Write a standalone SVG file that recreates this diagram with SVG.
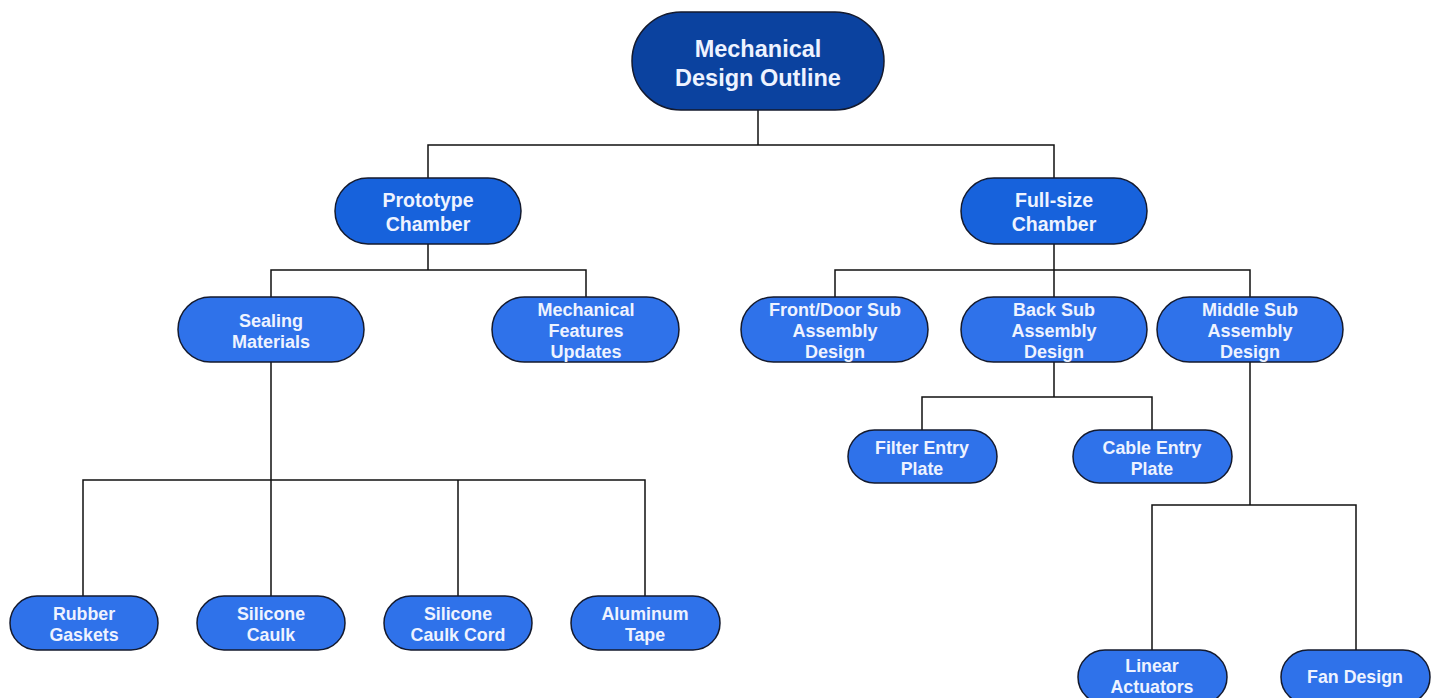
<svg xmlns="http://www.w3.org/2000/svg" width="1435" height="698" viewBox="0 0 1435 698">
<style>
.n{stroke:#141a2e;stroke-width:1.5}
.r{fill:#0b429f}
.m{fill:#1762dc}
.l{fill:#2f72ea}
text{font-family:"Liberation Sans",Arial,sans-serif;font-weight:bold;fill:#eef3ff;text-anchor:middle}
.t1{font-size:23.5px}
.t2{font-size:19.5px}
.t3{font-size:18px}
.t4{font-size:17.8px}
.c{fill:none;stroke:#111;stroke-width:1.5}
</style>
<rect width="1435" height="698" fill="#fff"/>
<g id="connectors" class="c">
<path d="M758 110V145M428 178V145H1054V178"/>
<path d="M428 244V270M271 297V270H586V297"/>
<path d="M1054 244V270M835 297V270H1250V297M1054 270V297"/>
<path d="M271 362V480M83 596V480H645V596M271 480V596M458 480V596"/>
<path d="M1054 362V397M922 430V397H1152V430"/>
<path d="M1250 362V505M1152 650V505H1356V650"/>
</g>
<g id="root"><rect class="n r" x="632" y="12" width="252" height="98" rx="49"/><text class="t1" x="758" y="56.5">Mechanical</text><text class="t1" x="758" y="85.5">Design Outline</text></g>
<g id="prototype"><rect class="n m" x="335" y="178" width="186" height="66" rx="33"/><text class="t2" x="428" y="207">Prototype</text><text class="t2" x="428" y="231">Chamber</text></g>
<g id="fullsize"><rect class="n m" x="961" y="178" width="186" height="66" rx="33"/><text class="t2" x="1054" y="207">Full-size</text><text class="t2" x="1054" y="231">Chamber</text></g>
<g id="sealing"><rect class="n l" x="178" y="297" width="186" height="65" rx="32.5"/><text class="t3" x="271" y="326.5">Sealing</text><text class="t3" x="271" y="347.5">Materials</text></g>
<g id="mechfeat"><rect class="n l" x="492" y="297" width="187" height="65" rx="32.5"/><text class="t3" x="586" y="315.5">Mechanical</text><text class="t3" x="586" y="336.5">Features</text><text class="t3" x="586" y="357.5">Updates</text></g>
<g id="front"><rect class="n l" x="741" y="297" width="187" height="65" rx="32.5"/><text class="t3" x="835" y="315.5">Front/Door Sub</text><text class="t3" x="835" y="336.5">Assembly</text><text class="t3" x="835" y="357.5">Design</text></g>
<g id="back"><rect class="n l" x="961" y="297" width="186" height="65" rx="32.5"/><text class="t3" x="1054" y="315.5">Back Sub</text><text class="t3" x="1054" y="336.5">Assembly</text><text class="t3" x="1054" y="357.5">Design</text></g>
<g id="middle"><rect class="n l" x="1157" y="297" width="186" height="65" rx="32.5"/><text class="t3" x="1250" y="315.5">Middle Sub</text><text class="t3" x="1250" y="336.5">Assembly</text><text class="t3" x="1250" y="357.5">Design</text></g>
<g id="rubber"><rect class="n l" x="10" y="596" width="148" height="54" rx="27"/><text class="t4" x="84" y="619.5">Rubber</text><text class="t4" x="84" y="640.5">Gaskets</text></g>
<g id="caulk"><rect class="n l" x="197" y="596" width="148" height="54" rx="27"/><text class="t4" x="271" y="619.5">Silicone</text><text class="t4" x="271" y="640.5">Caulk</text></g>
<g id="cord"><rect class="n l" x="384" y="596" width="148" height="54" rx="27"/><text class="t4" x="458" y="619.5">Silicone</text><text class="t4" x="458" y="640.5">Caulk Cord</text></g>
<g id="tape"><rect class="n l" x="571" y="596" width="149" height="54" rx="27"/><text class="t4" x="645" y="619.5">Aluminum</text><text class="t4" x="645" y="640.5">Tape</text></g>
<g id="filter"><rect class="n l" x="848" y="430" width="149" height="53" rx="26.5"/><text class="t4" x="922" y="453.5">Filter Entry</text><text class="t4" x="922" y="474.5">Plate</text></g>
<g id="cable"><rect class="n l" x="1073" y="430" width="159" height="53" rx="26.5"/><text class="t4" x="1152" y="453.5">Cable Entry</text><text class="t4" x="1152" y="474.5">Plate</text></g>
<g id="linear"><rect class="n l" x="1078" y="650" width="149" height="54" rx="27"/><text class="t4" x="1152" y="671.5">Linear</text><text class="t4" x="1152" y="692.5">Actuators</text></g>
<g id="fan"><rect class="n l" x="1281" y="650" width="149" height="54" rx="27"/><text class="t4" x="1355" y="682.5">Fan Design</text></g>
</svg>
